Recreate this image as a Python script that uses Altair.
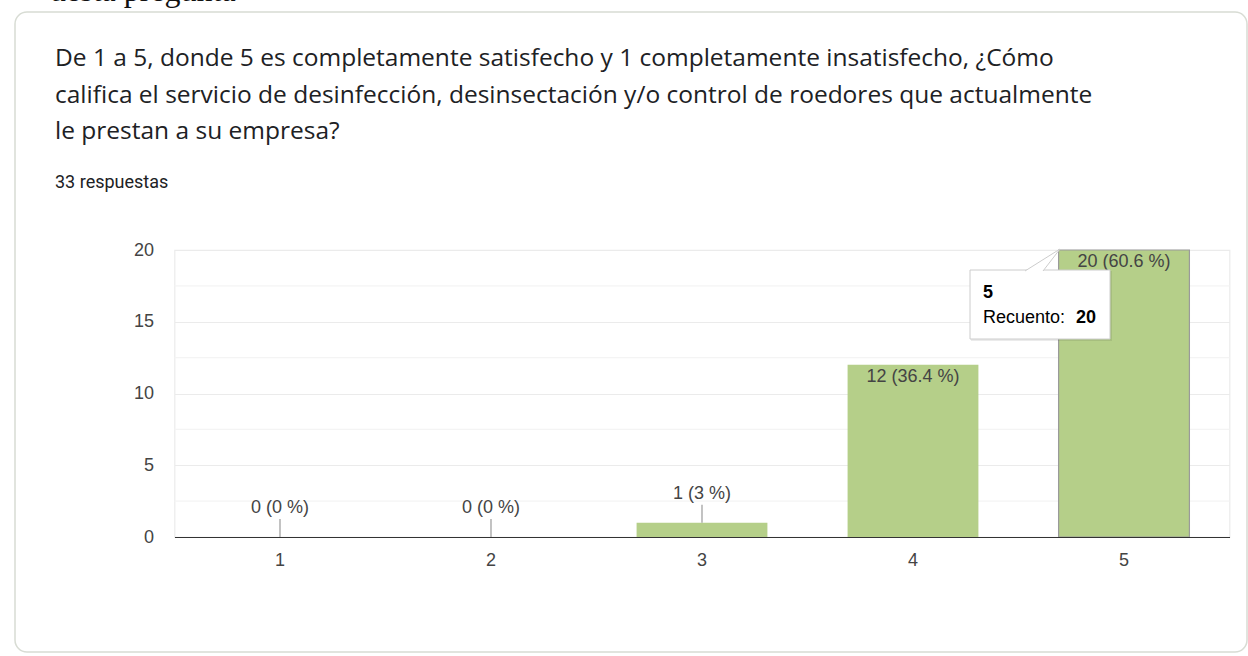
import altair as alt
import pandas as pd

# ---- data -------------------------------------------------------------
categories = ["1", "2", "3", "4", "5"]
counts = [0, 0, 1, 12, 20]
labels = ["0 (0 %)", "0 (0 %)", "1 (3 %)", "12 (36.4 %)", "20 (60.6 %)"]
label_inside = [False, False, False, True, True]
highlighted = [False, False, False, False, True]
y_ticks = [0, 5, 10, 15, 20]
y_minor = [2.5, 7.5, 12.5, 17.5]

title_lines = [
    "De 1 a 5, donde 5 es completamente satisfecho y 1 completamente insatisfecho, ¿Cómo",
    "califica el servicio de desinfección, desinsectación y/o control de roedores que actualmente",
    "le prestan a su empresa?",
]
subtitle = "33 respuestas"
top_fragment = "uesta pregunta"
tip_title = "5"
tip_label = "Recuento:"
tip_value = "20"

df = pd.DataFrame({
    "cat": categories,
    "count": counts,
    "label": labels,
    "inside": label_inside,
    "hl": highlighted,
})
minor_df = pd.DataFrame({"v": y_minor})
one = pd.DataFrame({"k": [0]})

# ---- layout -----------------------------------------------------------
W, H = 1055, 287
PL, PT = 174.5, 250
LABEL_FONT = "Arial"
LABEL_SIZE = 18
LABEL_COLOR = "#444444"

x_enc = alt.X(
    "cat:N",
    sort=categories,
    scale=alt.Scale(paddingInner=0.38, paddingOuter=0.19),
    axis=alt.Axis(
        title=None, labelAngle=0, labelFont=LABEL_FONT, labelFontSize=LABEL_SIZE,
        labelColor=LABEL_COLOR, labelPadding=14, ticks=False, domainColor="#333333",
        domainWidth=1.2, grid=False, zindex=1,
    ),
)
y_enc = alt.Y(
    "count:Q",
    scale=alt.Scale(domain=[0, 20], nice=False),
    axis=alt.Axis(
        title=None, values=y_ticks, labelFont=LABEL_FONT, labelFontSize=LABEL_SIZE,
        labelColor=LABEL_COLOR, labelPadding=21, ticks=False, domain=False,
        gridColor="#ebebeb", gridWidth=1.2,
    ),
)

base = alt.Chart(df)

card = alt.Chart(one).mark_rect(
    fillOpacity=0, stroke="#d8dcd4", strokeWidth=1.5, cornerRadius=12
).encode(
    x=alt.value(15 - PL), x2=alt.value(1247 - PL),
    y=alt.value(12 - PT), y2=alt.value(652 - PT),
)

fragment = alt.Chart(one).mark_text(
    text=top_fragment, font="Liberation Serif", fontSize=32, align="left",
    baseline="alphabetic", color="#111111",
).encode(x=alt.value(50 - PL), y=alt.value(1 - PT))

title = alt.Chart(one).mark_text(
    text=title_lines, font="Open Sans", fontSize=24.5, lineHeight=36.5, align="left",
    baseline="alphabetic", color="#202124",
).encode(x=alt.value(55 - PL), y=alt.value(66 - PT))

sub = alt.Chart(one).mark_text(
    text=subtitle, font="Roboto", fontSize=18, align="left",
    baseline="alphabetic", color="#202124",
).encode(x=alt.value(55 - PL), y=alt.value(188 - PT))

minor = alt.Chart(minor_df).mark_rule(color="#f4f4f4", strokeWidth=1.2).encode(
    y=alt.Y("v:Q")
)

bars = base.mark_bar(color="#b5cf89", stroke="#9a9a9a").encode(
    x=x_enc, y=y_enc,
    strokeWidth=alt.condition("datum.hl", alt.value(1.2), alt.value(0)),
)

leaders = base.transform_filter("!datum.inside").mark_rule(
    color="#9a9a9a", strokeWidth=1.2, y2Offset=-18
).encode(x="cat:N", y="count:Q", y2="count:Q")

out_text = base.transform_filter("!datum.inside").mark_text(
    baseline="middle", dy=-29, font=LABEL_FONT, fontSize=LABEL_SIZE, color=LABEL_COLOR
).encode(x="cat:N", y="count:Q", text="label:N")

in_text = base.transform_filter("datum.inside").mark_text(
    baseline="middle", dy=12, font=LABEL_FONT, fontSize=LABEL_SIZE, color=LABEL_COLOR
).encode(x="cat:N", y="count:Q", text="label:N")

# tooltip callout
tip_shadow = alt.Chart(one).mark_rect(fill="#000000", opacity=0.08).encode(
    x=alt.value(970 - PL + 1), x2=alt.value(1110 - PL + 2),
    y=alt.value(270 - PT + 1), y2=alt.value(339 - PT + 2),
)
tip_box = alt.Chart(one).mark_rect(fill="white", stroke="#cccccc", strokeWidth=1).encode(
    x=alt.value(970 - PL), x2=alt.value(1110 - PL),
    y=alt.value(270 - PT), y2=alt.value(339 - PT),
)
tip_pointer = alt.Chart(one).mark_point(
    shape="M -18 1 L 17 -21 L 0 1", size=4, filled=True, fill="white",
    stroke="#cccccc", strokeWidth=1, opacity=1, fillOpacity=1,
).encode(x=alt.value(1043 - PL), y=alt.value(270 - PT))
tip_t1 = alt.Chart(one).mark_text(
    text=tip_title, font=LABEL_FONT, fontSize=18, fontWeight="bold", align="left",
    baseline="alphabetic", color="#000000",
).encode(x=alt.value(983 - PL), y=alt.value(298 - PT))
tip_t2 = alt.Chart(one).mark_text(
    text=tip_label, font=LABEL_FONT, fontSize=18, align="left",
    baseline="alphabetic", color="#000000",
).encode(x=alt.value(983 - PL), y=alt.value(323 - PT))
tip_t3 = alt.Chart(one).mark_text(
    text=tip_value, font=LABEL_FONT, fontSize=18, fontWeight="bold", align="left",
    baseline="alphabetic", color="#000000",
).encode(x=alt.value(1076 - PL), y=alt.value(323 - PT))

chart = alt.layer(
    card, fragment, title, sub, minor, bars, leaders, out_text, in_text,
    tip_shadow, tip_box, tip_pointer, tip_t1, tip_t2, tip_t3,
).properties(
    width=W, height=H,
    autosize=alt.AutoSizeParams(type="none"),
    padding={"left": PL, "top": PT, "right": 1248 - PL - W, "bottom": 656 - PT - H},
    background="white",
).configure_view(stroke="#ebebeb", strokeWidth=1.2)

chart.save("out.html", embed_options={"renderer": "svg", "actions": False})
